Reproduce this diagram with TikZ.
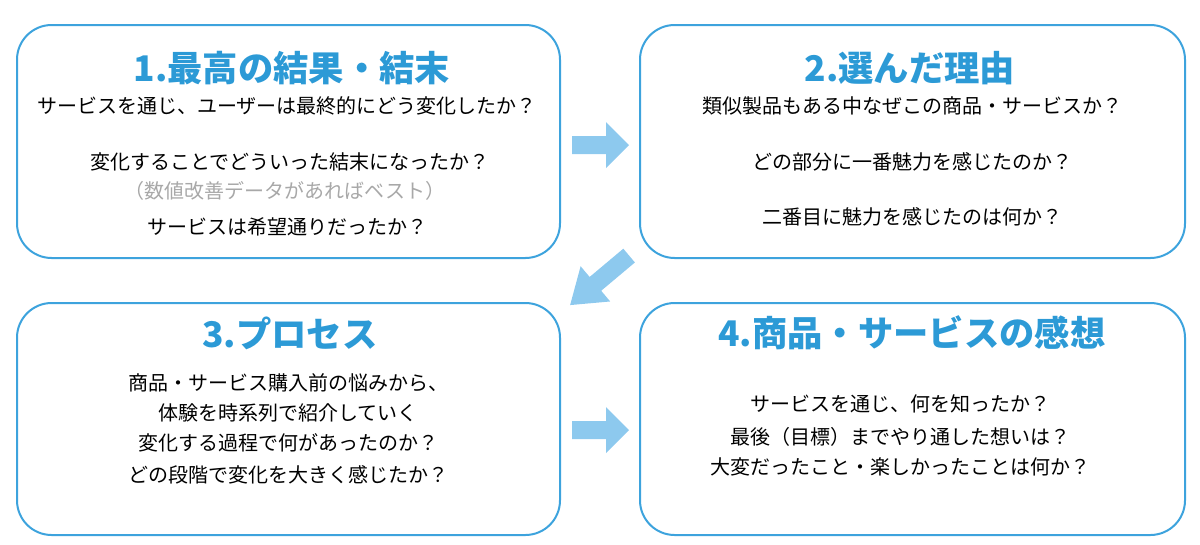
\documentclass[tikz,border=0pt]{standalone}
\usepackage{fontspec}
\setmainfont{Noto Sans CJK JP}
\definecolor{bd}{HTML}{3DA3DD}
\definecolor{tt}{HTML}{2C9AD6}
\definecolor{ar}{HTML}{8DC9EE}
\definecolor{gr}{HTML}{A8A8A8}
\begin{document}
\begin{tikzpicture}[x=0.75pt,y=-0.75pt,
 box/.style={draw=bd,line width=1.5pt,rounded corners=26pt},
 ttl/.style={text=tt,font=\fontsize{26.5}{30}\selectfont\bfseries,anchor=center},
 txt/.style={font=\fontsize{15}{18}\selectfont,anchor=center},
 arr/.style={fill=ar,draw=none}]
\useasboundingbox (0,0) rectangle (1200,544);
\draw[box] (17,25) rectangle (560,258);
\draw[box] (640,25) rectangle (1185,258);
\draw[box] (17,303) rectangle (560,535);
\draw[box] (640,303) rectangle (1185,535);
% arrows
\fill[arr] (572,136)--(606,136)--(606,122)--(629,145)--(606,168)--(606,154)--(572,154)--cycle;
\fill[arr] (572,421)--(606,421)--(606,407)--(629,430)--(606,453)--(606,439)--(572,439)--cycle;
\begin{scope}[shift={(600,280)},rotate=40]
\fill[arr] (38,-9)--(-6,-9)--(-6,-23)--(-39,0)--(-6,23)--(-6,9)--(38,9)--cycle;
\end{scope}
% box1
\node[ttl] (t1) at (292,68) {1.最高の結果・結末};
\node[txt] (a1) at (287,106) {サービスを通じ、ユーザーは最終的にどう変化したか？};
\node[txt] (a2) at (290,162) {変化することでどういった結末になったか？};
\node[txt,text=gr] (a3) at (285,191) {（数値改善データがあればベスト）};
\node[txt] (a4) at (287,227) {サービスは希望通りだったか？};
% box2
\node[ttl] (t2) at (910,68) {2.選んだ理由};
\node[txt] (b1) at (912,106) {類似製品もある中なぜこの商品・サービスか？};
\node[txt] (b2) at (912,162) {どの部分に一番魅力を感じたのか？};
\node[txt] (b3) at (912,217) {二番目に魅力を感じたのは何か？};
% box3
\node[ttl] (t3) at (290,333) {3.プロセス};
\node[txt] (c1) at (288,383) {商品・サービス購入前の悩みから、};
\node[txt] (c2) at (288,413) {体験を時系列で紹介していく};
\node[txt] (c3) at (288,443) {変化する過程で何があったのか？};
\node[txt] (c4) at (288,475) {どの段階で変化を大きく感じたか？};
% box4
\node[ttl] (t4) at (912,333) {4.商品・サービスの感想};
\node[txt] (d1) at (900,404) {サービスを通じ、何を知ったか？};
\node[txt] (d2) at (900,437) {最後（目標）までやり通した想いは？};
\node[txt] (d3) at (900,467) {大変だったこと・楽しかったことは何か？};
\end{tikzpicture}
\end{document}
